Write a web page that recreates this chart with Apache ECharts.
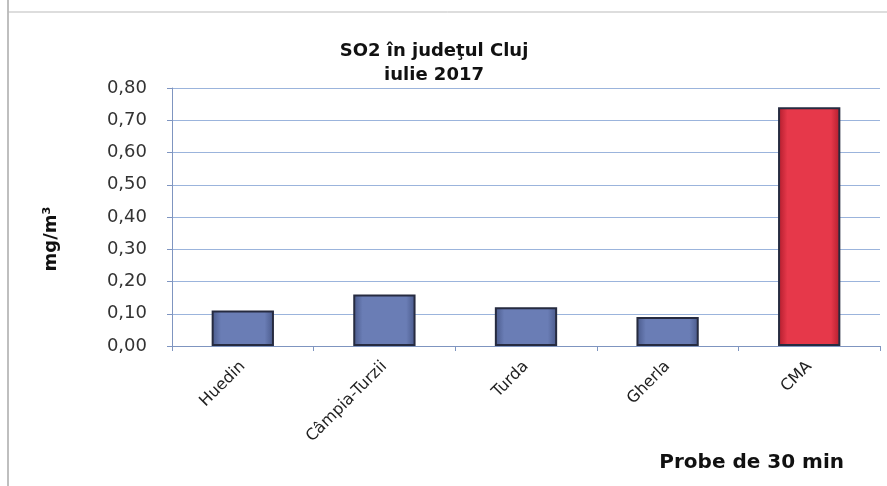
<!DOCTYPE html>
<html><head><meta charset="utf-8">
<script src="https://cdn.jsdelivr.net/npm/echarts@6/dist/echarts.min.js"></script>
<style>html,body{margin:0;padding:0;background:#fff}#c{width:887px;height:486px}</style>
</head><body><div id="c"></div>
<script>
const categories = ['Huedin', 'Câmpia-Turzii', 'Turda', 'Gherla', 'CMA'];
const values = [0.11, 0.16, 0.12, 0.09, 0.74];
const yTicks = [0, 0.1, 0.2, 0.3, 0.4, 0.5, 0.6, 0.7, 0.8];

const blue = new echarts.graphic.LinearGradient(0, 0, 1, 0, [
  {offset: 0, color: '#485889'}, {offset: 0.15, color: '#6a7db5'},
  {offset: 0.85, color: '#6a7db5'}, {offset: 1, color: '#485889'}]);
const red = new echarts.graphic.LinearGradient(0, 0, 1, 0, [
  {offset: 0, color: '#b01c2c'}, {offset: 0.15, color: '#e6384a'},
  {offset: 0.85, color: '#e6384a'}, {offset: 1, color: '#b01c2c'}]);

const chart = echarts.init(document.getElementById('c'));
chart.setOption({
  animation: false,
  title: {
    text: 'SO2 în judeţul Cluj\niulie 2017',
    left: 429, top: 34, textAlign: 'center',
    textStyle: {fontFamily: 'DejaVu Sans', fontSize: 18, fontWeight: 'bold', color: '#111', lineHeight: 24}
  },
  graphic: [
    {type: 'line', shape: {x1: 8, y1: 0, x2: 8, y2: 486}, style: {stroke: '#aaa', lineWidth: 1.5}},
    {type: 'line', shape: {x1: 8, y1: 12, x2: 887, y2: 12}, style: {stroke: '#bbb', lineWidth: 1}}
  ],
  grid: {left: 172, right: 7, top: 88, bottom: 140},
  xAxis: {
    type: 'category', data: categories,
    name: 'Probe de 30 min', nameLocation: 'end',
    nameGap: 0,
    nameTextStyle: {fontFamily: 'DejaVu Sans', fontSize: 20, fontWeight: 'bold', color: '#111',
      align: 'right', verticalAlign: 'top', padding: [107, 36, 0, 0]},
    axisLine: {lineStyle: {color: '#7f95c0'}},
    axisTick: {show: true, alignWithLabel: false, length: 5, lineStyle: {color: '#7f95c0'}},
    axisLabel: {rotate: 45, margin: 18, fontFamily: 'DejaVu Sans', fontSize: 16, color: '#222', interval: 0}
  },
  yAxis: {
    type: 'value', min: 0, max: 0.8, interval: 0.1,
    name: 'mg/m³', nameLocation: 'middle', nameGap: 112, nameRotate: 90,
    nameTextStyle: {fontFamily: 'DejaVu Sans', fontSize: 18, fontWeight: 'bold', color: '#111',
      padding: [0, 44, 0, 0]},
    axisLine: {show: true, lineStyle: {color: '#7f95c0'}},
    axisTick: {show: true, length: 5, inside: false, lineStyle: {color: '#7f95c0'}},
    splitLine: {lineStyle: {color: '#9bb4dc', width: 1}},
    axisLabel: {margin: 25, fontFamily: 'DejaVu Sans', fontSize: 18, color: '#333',
      formatter: v => v.toFixed(2).replace('.', ',')}
  },
  series: [{
    type: 'bar', barWidth: '44%',
    data: values.map((v, i) => ({value: v, itemStyle: {color: i === 4 ? red : blue}})),
    itemStyle: {borderColor: '#262b40', borderWidth: 2}
  }]
});
</script></body></html>
